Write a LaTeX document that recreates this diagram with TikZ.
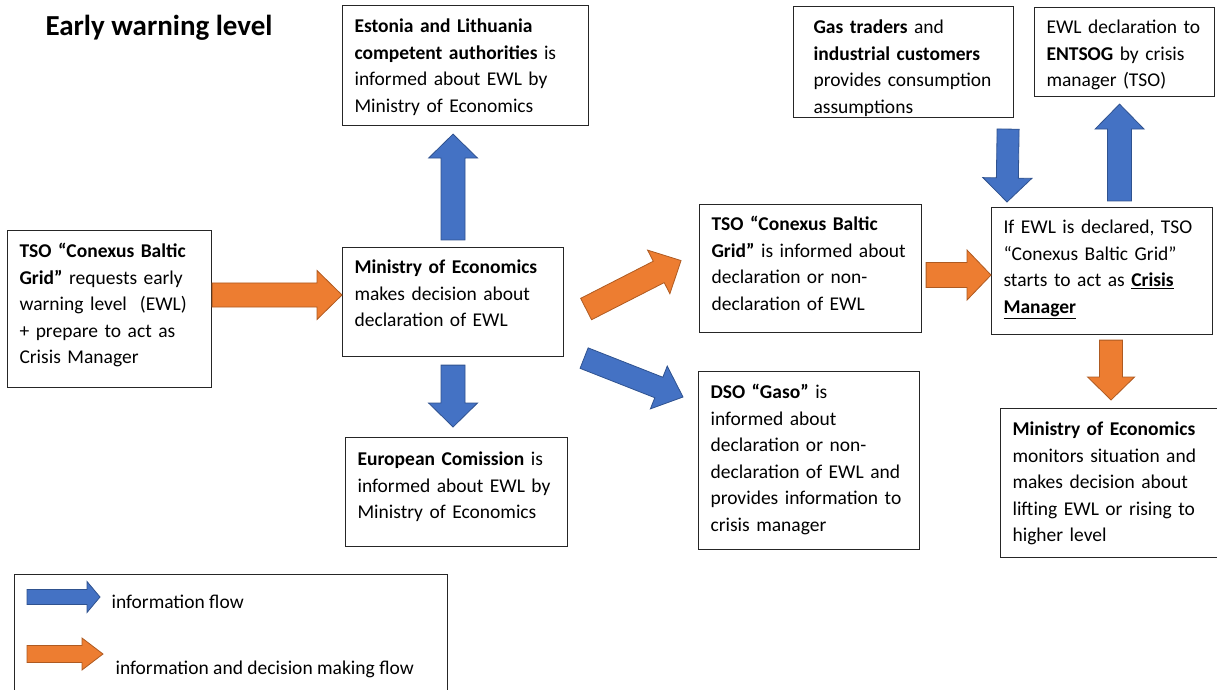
\documentclass[tikz,border=0pt]{standalone}
\usepackage{fontspec}
\setmainfont{Carlito}
\usetikzlibrary{calc}
\definecolor{flowblue}{HTML}{4472C4}
\definecolor{flowblueline}{HTML}{2F528F}
\definecolor{floworange}{HTML}{ED7D31}
\definecolor{floworangeline}{HTML}{AE5A21}

\tikzset{
    flow shaft/.store in=\flowshaft, flow head/.store in=\flowhead, flow tip/.store in=\flowtip,
    flow shaft=12pt, flow head=24.5pt, flow tip=24pt}

\newcommand{\flowarrow}[3]{%
    \begin{scope}[#1]
        \coordinate (ft) at #2;
        \coordinate (fh) at #3;
        \coordinate (fb) at ($(fh)!\flowtip!(ft)$);
        \filldraw ($(ft)!\flowshaft!90:(fh)$) -- ($(fb)!\flowshaft!-90:(ft)$) -- ($(fb)!\flowhead!-90:(ft)$) -- (fh)
            -- ($(fb)!\flowhead!90:(ft)$) -- ($(fb)!\flowshaft!90:(ft)$) -- ($(ft)!\flowshaft!-90:(fh)$) -- cycle;
    \end{scope}}

\begin{document}
\begin{tikzpicture}[x=1pt, y=1pt,
    box/.style={draw=black!85, line width=1.1pt, anchor=north west, inner xsep=12pt, inner ysep=0pt, align=left, font=\fontsize{19.5}{26.5}\selectfont},
    info/.style={line width=0.8pt, fill=flowblue, draw=flowblueline, line join=miter},
    decision/.style={line width=0.8pt, fill=floworange, draw=floworangeline, line join=miter}]
    \useasboundingbox (0,0) rectangle (1217,689);
    \node[font=\bfseries\fontsize{29}{34}\selectfont, anchor=base west] (title) at (42,653) {Early warning level};
    \node[box, text width=180pt, text height=27pt, text depth=130pt] (tsoreq) at (7,459) {\textbf{TSO “Conexus Baltic}\\\textbf{Grid”} requests early\\warning level~ (EWL)\\+ prepare to act as\\Crisis Manager};
    \node[box, text width=197pt, text height=26pt, text depth=83pt] (ministry) at (342,442) {\textbf{Ministry of Economics}\\makes decision about\\declaration of EWL};
    \node[box, text width=222pt, text height=27pt, text depth=93pt] (estonia) at (342,684) {\textbf{Estonia and Lithuania}\\\textbf{competent authorities} is\\informed about EWL by\\Ministry of Economics};
    \node[box, text width=198pt, text height=28pt, text depth=81pt] (commission) at (345,252) {\textbf{European Comission} is\\informed about EWL by\\Ministry of Economics};
    \node[box, text width=198pt, text height=26pt, text depth=102pt] (tsoinfo) at (699,485) {\textbf{TSO “Conexus Baltic}\\\textbf{Grid”} is informed about\\declaration or non-\\declaration of EWL};
    \node[box, text width=197pt, text height=27pt, text depth=151pt] (dso) at (698,318) {\textbf{DSO “Gaso”} is\\informed about\\declaration or non-\\declaration of EWL and\\provides information to\\crisis manager};
    \node[box, text width=197pt, text height=26pt, text depth=101pt] (crisis) at (991,482) {If EWL is declared, TSO\\“Conexus Baltic Grid”\\starts to act as \underline{\textbf{Crisis}}\\\underline{\textbf{Manager}}};
    \node[box, inner xsep=20pt, text width=180pt, text height=27pt, text depth=84pt] (traders) at (793,683) {\textbf{Gas traders} and\\\textbf{industrial customers}\\provides consumption\\assumptions};
    \node[box, text width=156pt, text height=26pt, text depth=63pt] (entsog) at (1034,682) {EWL declaration to\\\textbf{ENTSOG} by crisis\\manager (TSO)};
    \node[box, text width=194pt, text height=27pt, text depth=122pt] (monitor) at (1000,281) {\textbf{Ministry of Economics}\\monitors situation and\\makes decision about\\lifting EWL or rising to\\higher level};
    \node[draw=black!85, line width=1.1pt, anchor=north west, minimum width=433pt, minimum height=120pt, inner sep=0pt] (legend) at (14,115) {};
    \node[font=\fontsize{19.5}{26.5}\selectfont, anchor=base west] (infolabel) at (108,81) {information flow};
    \node[font=\fontsize{19.5}{26.5}\selectfont, anchor=base west] (decisionlabel) at (112,15) {information and decision making flow};
    \flowarrow{decision, flow tip=25pt}{(tsoreq.east |- 0,394)}{(ministry.west |- 0,394)}
    \flowarrow{info}{($(ministry.north)+(0,7)$)}{($(ministry.north |- estonia.south)+(0,-8)$)}
    \flowarrow{info}{($(ministry.south)+(0,-8)$)}{($(ministry.south |- commission.north)+(0,10)$)}
    \flowarrow{decision, flow tip=25pt}{($(ministry.east)+(22,-7)$)}{($(tsoinfo.west)+(-18,8)$)}
    \flowarrow{info, flow shaft=11pt, flow head=23pt, flow tip=26pt}{($(ministry.south east)+(20,-1)$)}{($(dso.north west)+(-15,-26)$)}
    \flowarrow{decision, flow shaft=12.5pt, flow head=25pt}{($(tsoinfo.east |- crisis.west)+(4,-4)$)}{($(crisis.west)+(0,-4)$)}
    \flowarrow{info, flow shaft=11pt}{($(traders.south east)+(-6,-11)$)}{($(crisis.north west)+(16,5)$)}
    \flowarrow{info, flow tip=25pt}{($(crisis.north)+(17.5,6)$)}{($(entsog.south)+(-5,-7)$)}
    \flowarrow{decision, flow shaft=11.5pt, flow head=23.5pt, flow tip=23pt}{($(crisis.south)+(9,-5)$)}{($(crisis.south |- monitor.north)+(9,8)$)}
    \flowarrow{info, flow shaft=7.5pt, flow head=15.5pt, flow tip=13pt}{($(legend.north west)+(13,-23)$)}{($(legend.north west)+(86,-23)$)}
    \flowarrow{decision, flow shaft=8.5pt, flow head=16pt, flow tip=21pt}{($(legend.north west)+(13,-80)$)}{($(legend.north west)+(89,-80)$)}
\end{tikzpicture}
\end{document}
